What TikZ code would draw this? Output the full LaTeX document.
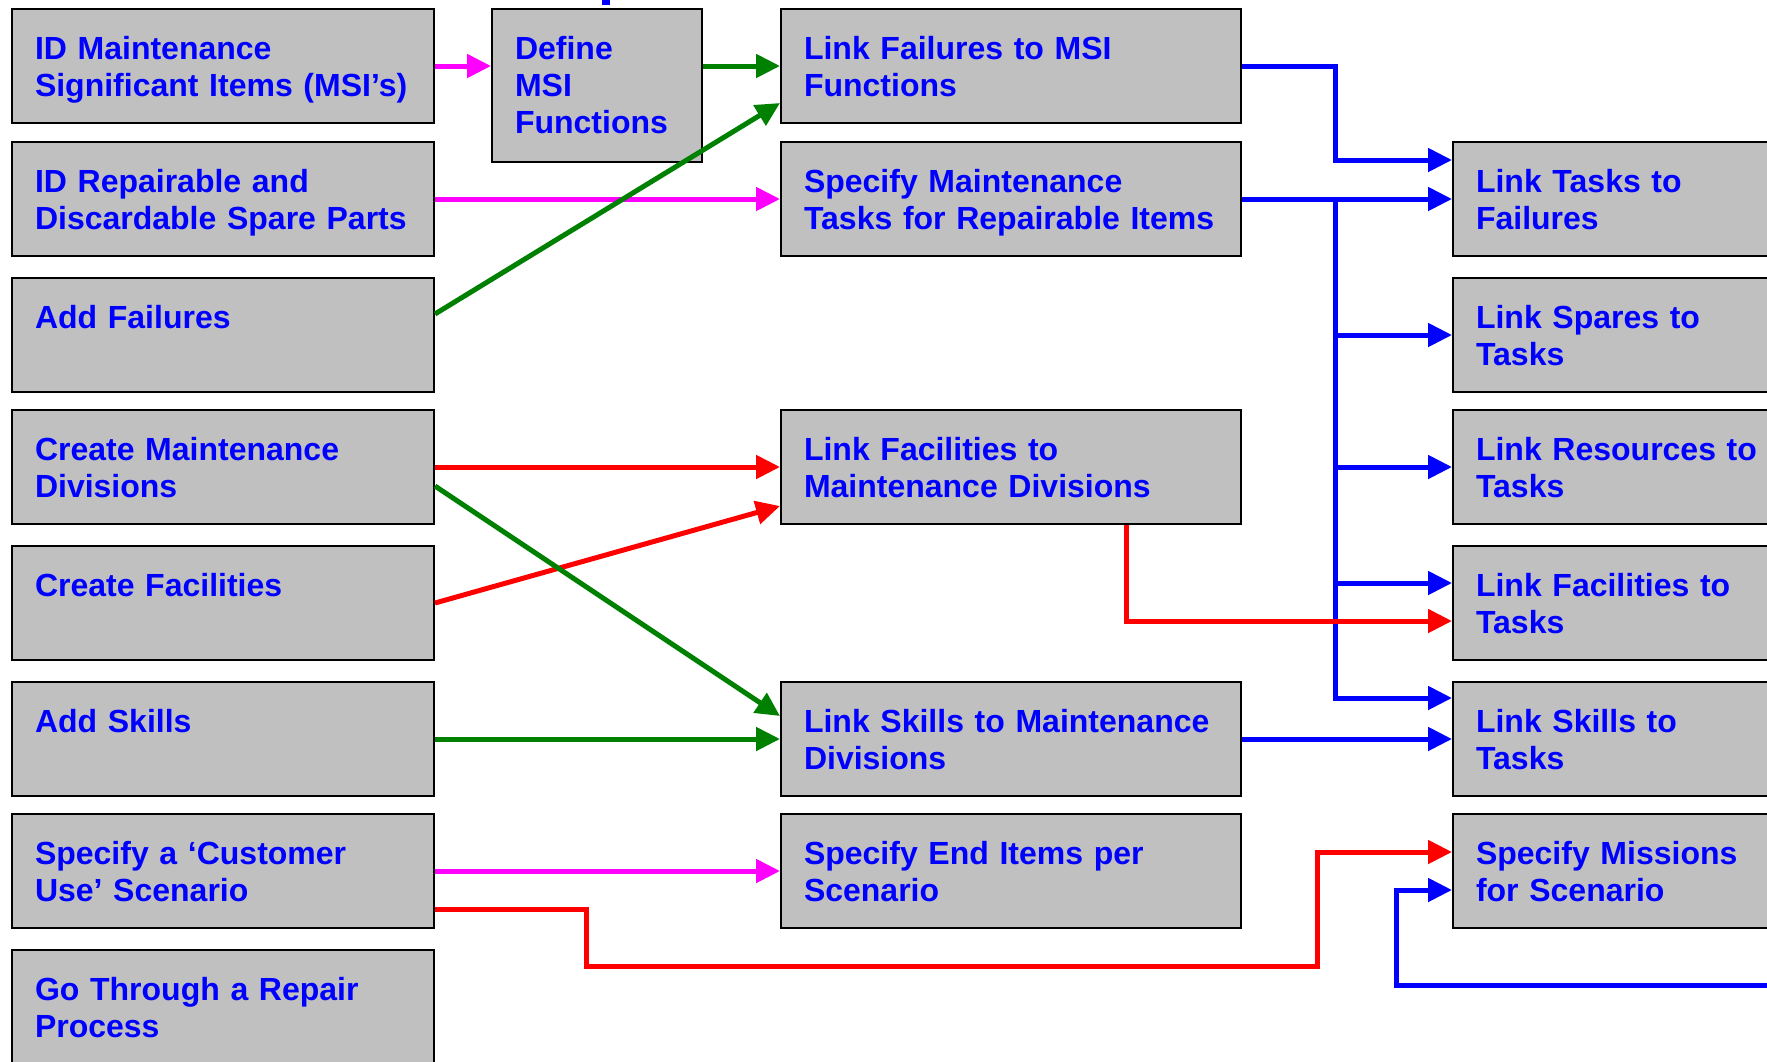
\documentclass[tikz,border=0pt]{standalone}
\usepackage{fontspec}
\setmainfont{Liberation Sans}
\usetikzlibrary{arrows.meta}

\definecolor{gris}{RGB}{192,192,192}
\definecolor{bleuT}{RGB}{0,0,255}
\definecolor{rose}{RGB}{255,0,255}
\definecolor{vert}{RGB}{0,128,0}
\definecolor{rouge}{RGB}{255,0,0}

\tikzset{
  boite/.style={draw=black, line width=1pt, fill=gris, anchor=north west,
    inner xsep=11.5pt, inner ysep=5pt, text height=20pt, text depth=27pt,
    align=left, text=bleuT, font=\bfseries\fontsize{16pt}{18.5pt}\selectfont},
  gauche/.style={boite, text width=188pt},
  milieu/.style={boite, text width=207pt},
  fleche/.style={line width=2.5pt, -{Triangle[length=12pt,width=11.5pt]}},
}

\begin{document}
\begin{tikzpicture}[x=0.5pt,y=-0.5pt]
\useasboundingbox (0,0) rectangle (1767,1061);

% Titre (coupe)
\fill[bleuT] (602,0) rectangle (610,5);

% Colonne 1
\node[gauche] (idmsi) at (11,8) {ID Maintenance\\Significant Items (MSI’s)};
\node[gauche] (repair) at (11,141) {ID Repairable and\\Discardable Spare Parts};
\node[gauche] (addfail) at (11,277) {Add Failures};
\node[gauche] (creatediv) at (11,409) {Create Maintenance\\Divisions};
\node[gauche] (createfac) at (11,545) {Create Facilities};
\node[gauche] (addskill) at (11,681) {Add Skills};
\node[gauche] (custuse) at (11,813) {Specify a ‘Customer\\Use’ Scenario};
\node[gauche] (repproc) at (11,949) {Go Through a Repair\\Process};

% Fonctions
\node[boite, text width=82pt, text depth=46.5pt] (defmsi) at (491,8) {Define\\MSI\\Functions};

% Colonne 2
\node[milieu] (lnkfail) at (780,8) {Link Failures to MSI\\Functions};
\node[milieu] (spectask) at (780,141) {Specify Maintenance\\Tasks for Repairable Items};
\node[milieu] (lnkfacdiv) at (780,409) {Link Facilities to\\Maintenance Divisions};
\node[milieu] (lnkskilldiv) at (780,681) {Link Skills to Maintenance\\Divisions};
\node[milieu] (enditems) at (780,813) {Specify End Items per\\Scenario};

% Colonne 3
\node[milieu] (lnktaskfail) at (1452,141) {Link Tasks to\\Failures};
\node[milieu] (lnkspare) at (1452,277) {Link Spares to\\Tasks};
\node[milieu] (lnkres) at (1452,409) {Link Resources to\\Tasks};
\node[milieu] (lnkfactask) at (1452,545) {Link Facilities to\\Tasks};
\node[milieu] (lnkskilltask) at (1452,681) {Link Skills to\\Tasks};
\node[milieu] (missions) at (1452,813) {Specify Missions\\for Scenario};

% Fleches bleues
\coordinate (bus) at (1335,0);
\coordinate (b1) at (1790,985);
\coordinate (b2) at (1396,985);
\draw[fleche, bleuT] (lnkfail.east) -| ([yshift=19.5pt]lnktaskfail.west -| bus) -- ([yshift=19.5pt]lnktaskfail.west);
\draw[fleche, bleuT] (spectask.east) -- (lnktaskfail.west);
\draw[fleche, bleuT] (bus |- spectask.east) |- ([yshift=20.5pt]lnkskilltask.west);
\draw[fleche, bleuT] (bus |- lnkspare.west) -- (lnkspare.west);
\draw[fleche, bleuT] (bus |- lnkres.west) -- (lnkres.west);
\draw[fleche, bleuT] ([yshift=10pt]lnkfactask.west -| bus) -- ([yshift=10pt]lnkfactask.west);
\draw[fleche, bleuT] (lnkskilldiv.east) -- (lnkskilltask.west);
\draw[fleche, bleuT] (b1) -- (b2) |- ([yshift=-9.5pt]missions.west);

% Fleches roses
\draw[fleche, rose] (idmsi.east) -- (idmsi.east -| defmsi.west);
\draw[fleche, rose] (repair.east) -- (spectask.west);
\draw[fleche, rose] (custuse.east) -- (enditems.west);

% Fleches rouges
\coordinate (r1) at (586,966);
\coordinate (r2) at (1317,966);
\draw[fleche, rouge] (creatediv.east) -- (lnkfacdiv.west);
\draw[fleche, rouge] (createfac.east) -- ([yshift=-19.5pt]lnkfacdiv.west);
\draw[fleche, rouge] ([xshift=-58pt]lnkfacdiv.south east) |- ([yshift=-9pt]lnkfactask.west);
\draw[fleche, rouge] ([yshift=-19pt]custuse.east) -| (r1) -- (r2) |- ([yshift=9.5pt]missions.west);

% Fleches vertes
\draw[fleche, vert] (defmsi.east |- lnkfail.west) -- (lnkfail.west);
\draw[fleche, vert] ([yshift=10.5pt]addfail.east) -- ([yshift=10.5pt]lnkfail.south west);
\draw[fleche, vert] ([yshift=-9.5pt]creatediv.east) -- ([yshift=11.5pt]lnkskilldiv.west);
\draw[fleche, vert] (addskill.east) -- (lnkskilldiv.west);

\end{tikzpicture}
\end{document}
